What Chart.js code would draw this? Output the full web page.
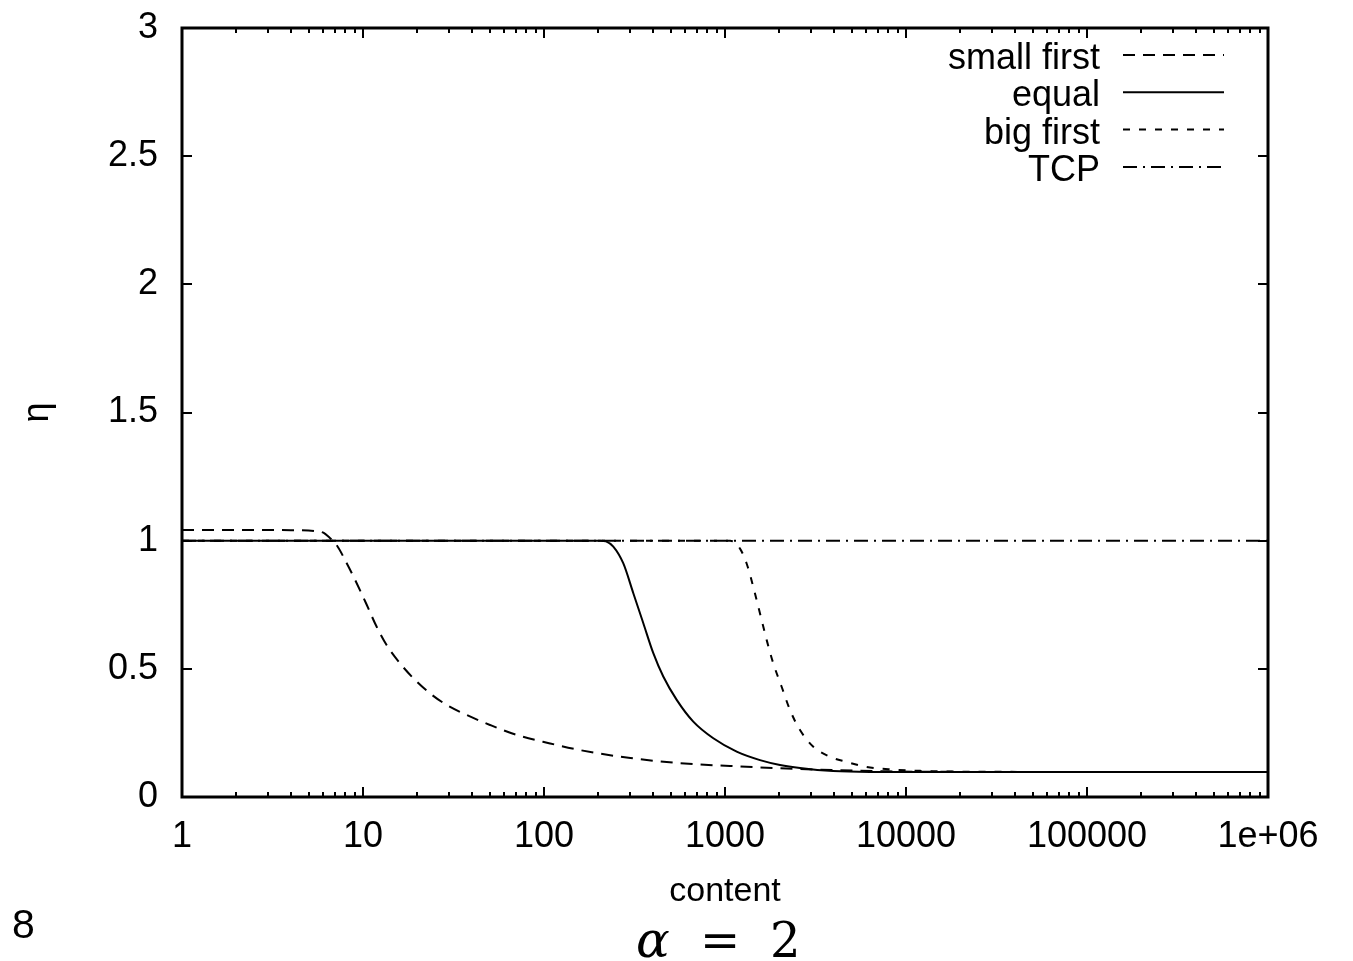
<!DOCTYPE html>
<html>
<head>
<meta charset="utf-8">
<script src="https://cdn.jsdelivr.net/npm/chart.js@4.4.1/dist/chart.umd.min.js"></script>
<style>
  html, body { margin: 0; padding: 0; background: #fff; }
  #box { position: relative; width: 1353px; height: 961px; }
</style>
</head>
<body>
<div id="box"><canvas id="chart" width="1353" height="961"></canvas></div>
<script>
// axis ticks
const xTicks = [1, 10, 100, 1000, 10000, 100000, 1000000];
const xTickLabels = ['1', '10', '100', '1000', '10000', '100000', '1e+06'];
const yTicks = [0, 0.5, 1, 1.5, 2, 2.5, 3];
const yTickLabels = ['0', '0.5', '1', '1.5', '2', '2.5', '3'];

// series
const smallFirstX = [1, 2, 4, 5, 5.5, 6.04, 6.43, 7.15, 8.13, 9.23, 10.5, 11.9, 13.5, 16, 19, 23.4, 29, 37.4, 50.3, 70.7, 108, 158, 300, 564, 1066, 2013, 4000, 8000, 20000, 100000, 1000000];
const smallFirstY = [1.042, 1.042, 1.041, 1.04, 1.037, 1.031, 1.016, 0.983, 0.912, 0.834, 0.749, 0.664, 0.593, 0.522, 0.463, 0.405, 0.359, 0.32, 0.281, 0.242, 0.209, 0.183, 0.152, 0.132, 0.121, 0.112, 0.105, 0.1, 0.098, 0.098, 0.098];

const equalX = [1, 100, 204, 220, 241.5, 274, 311.5, 353.8, 401.7, 456, 541, 668, 862, 1160, 1561, 2013, 2597, 3953, 6324, 20000, 1000000];
const equalY = [1, 1, 1, 0.997, 0.977, 0.912, 0.795, 0.678, 0.561, 0.47, 0.379, 0.294, 0.229, 0.177, 0.144, 0.125, 0.113, 0.101, 0.098, 0.098, 0.098];

const bigFirstX = [1, 100, 1000, 1066, 1210, 1318, 1434, 1561, 1700, 1849, 2058, 2287, 2597, 3076, 3802, 4699, 6063, 8506, 11950, 20000, 50000, 1000000];
const bigFirstY = [1, 1, 1, 1, 0.969, 0.91, 0.819, 0.716, 0.612, 0.521, 0.429, 0.339, 0.261, 0.196, 0.157, 0.137, 0.117, 0.107, 0.102, 0.099, 0.098, 0.098];

const tcpX = [1, 1000000];
const tcpY = [1, 1];

const seriesNames = ['small first', 'equal', 'big first', 'TCP'];

const pts = (xs, ys) => xs.map((x, i) => ({ x: x, y: ys[i] }));

const FONT = 'Liberation Sans, Arial, Helvetica, sans-serif';

function line(label, data, dash) {
  return {
    label: label,
    data: data,
    borderColor: '#000',
    borderWidth: 2,
    borderDash: dash,
    pointRadius: 0,
    fill: false,
    cubicInterpolationMode: 'monotone'
  };
}

// gnuplot-like frame, inward ticks, legend and captions
const frame = {
  id: 'frame',
  afterDraw(chart) {
    const ctx = chart.ctx;
    const a = chart.chartArea;
    const xs = chart.scales.x, ys = chart.scales.y;
    ctx.save();
    ctx.strokeStyle = '#000';
    ctx.lineWidth = 2;
    ctx.setLineDash([]);
    ctx.beginPath();
    // x ticks (major + minor log ticks), bottom and top
    for (let d = 0; d < xTicks.length; d++) {
      const base = xTicks[d];
      for (let m = 1; m <= 9; m++) {
        const v = base * m;
        if (v > 1000000) break;
        const px = Math.round(xs.getPixelForValue(v));
        const len = m === 1 ? 10 : 5;
        ctx.moveTo(px, a.bottom); ctx.lineTo(px, a.bottom - len);
        ctx.moveTo(px, a.top); ctx.lineTo(px, a.top + len);
      }
    }
    // y ticks, left and right
    yTicks.forEach(v => {
      const py = Math.round(ys.getPixelForValue(v));
      ctx.moveTo(a.left, py); ctx.lineTo(a.left + 10, py);
      ctx.moveTo(a.right, py); ctx.lineTo(a.right - 10, py);
    });
    ctx.stroke();
    ctx.lineWidth = 3;
    ctx.strokeRect(a.left, a.top, a.right - a.left, a.bottom - a.top);

    // legend
    ctx.font = '36px ' + FONT;
    ctx.fillStyle = '#000';
    ctx.textAlign = 'right';
    ctx.textBaseline = 'alphabetic';
    chart.data.datasets.forEach((ds, i) => {
      const ly = 55 + 37.3 * i;
      ctx.fillText(ds.label, 1100, ly + 14);
      ctx.lineWidth = ds.borderWidth;
      ctx.setLineDash(ds.borderDash);
      ctx.beginPath();
      ctx.moveTo(1123, ly); ctx.lineTo(1224, ly);
      ctx.stroke();
    });
    ctx.setLineDash([]);

    // page number and caption
    ctx.textAlign = 'left';
    ctx.font = '41px ' + FONT;
    ctx.fillText('8', 12, 938);
    ctx.font = 'italic 50px "DejaVu Serif", serif';
    ctx.fillText('\u03b1', 636, 957);
    ctx.font = '48px "DejaVu Serif", serif';
    ctx.fillText('=', 700, 957);
    ctx.fillText('2', 770, 957);
    ctx.restore();
  }
};

new Chart(document.getElementById('chart'), {
  type: 'line',
  data: {
    datasets: [
      line(seriesNames[0], pts(smallFirstX, smallFirstY), [12, 8]),
      line(seriesNames[1], pts(equalX, equalY), []),
      line(seriesNames[2], pts(bigFirstX, bigFirstY), [7, 9]),
      line(seriesNames[3], pts(tcpX, tcpY), [14, 6, 2, 6])
    ]
  },
  options: {
    responsive: false,
    animation: false,
    layout: { padding: { left: 0, right: 85, top: 28, bottom: 40 } },
    plugins: { legend: { display: false }, tooltip: { enabled: false } },
    scales: {
      x: {
        type: 'logarithmic',
        min: 1,
        max: 1000000,
        afterBuildTicks: s => { s.ticks = xTicks.map(v => ({ value: v })); },
        afterFit: s => { s.height = 124; },
        grid: { display: false, drawTicks: false },
        border: { display: false },
        ticks: {
          callback: (v, i) => xTickLabels[i],
          font: { family: FONT, size: 36 },
          color: '#000',
          padding: 18,
          maxRotation: 0,
          autoSkip: false
        },
        title: { display: true, text: 'content', color: '#000', font: { family: FONT, size: 34 }, padding: { top: 0, bottom: 9 } }
      },
      y: {
        type: 'linear',
        min: 0,
        max: 3,
        afterBuildTicks: s => { s.ticks = yTicks.map(v => ({ value: v })); },
        afterFit: s => { s.width = 182; s.paddingTop = 0; s.paddingBottom = 0; },
        grid: { display: false, drawTicks: false },
        border: { display: false },
        ticks: {
          callback: (v, i) => yTickLabels[i],
          font: { family: FONT, size: 36 },
          color: '#000',
          padding: 24
        },
        title: { display: true, text: '\u03b7', color: '#000', font: { family: FONT, size: 36 }, padding: { top: 16, bottom: 0 } }
      }
    }
  },
  plugins: [frame]
});
</script>
</body>
</html>
